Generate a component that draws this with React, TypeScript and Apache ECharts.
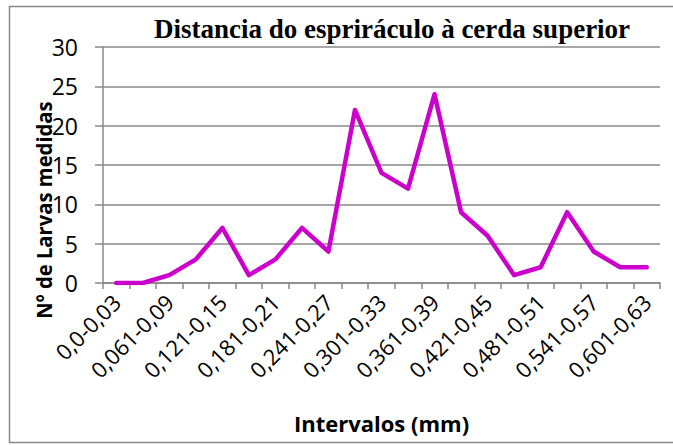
import React, { useEffect, useRef } from "react";
import * as echarts from "echarts";

const categories = [
  "0,0-0,03", "0,031-0,06", "0,061-0,09", "0,091-0,12", "0,121-0,15", "0,151-0,18",
  "0,181-0,21", "0,211-0,24", "0,241-0,27", "0,271-0,30", "0,301-0,33", "0,331-0,36",
  "0,361-0,39", "0,391-0,42", "0,421-0,45", "0,451-0,48", "0,481-0,51", "0,511-0,54",
  "0,541-0,57", "0,571-0,60", "0,601-0,63",
];
const values = [0, 0, 1, 3, 7, 1, 3, 7, 4, 22, 14, 12, 24, 9, 6, 1, 2, 9, 4, 2, 2];
const titleText = "Distancia do espriráculo à cerda superior";
const xName = "Intervalos (mm)";
const yName = "Nº de Larvas medidas";

export default function App() {
  const ref = useRef<HTMLDivElement>(null);
  useEffect(() => {
    if (!ref.current) return;
    const chart = echarts.init(ref.current, null, { renderer: "svg" });
    chart.setOption({
      animation: false,
      backgroundColor: "#fff",
      title: {
        text: titleText,
        left: 387,
        textAlign: "center",
        top: 10,
        textStyle: {
          fontFamily: "Liberation Serif",
          fontWeight: "bold",
          fontSize: 27,
          color: "#000",
        },
      },
      graphic: [
        {
          type: "rect",
          shape: { x: 9.5, y: 6.5, width: 680, height: 436 },
          style: { fill: "none", stroke: "#888", lineWidth: 1.5 },
          silent: true,
        },
        {
          type: "text",
          x: 43,
          y: 210,
          rotation: Math.PI / 2,
          scaleX: 0.92,
          style: {
            text: yName,
            fontFamily: "Open Sans",
            fontWeight: "bold",
            fontSize: 22,
            fill: "#000",
            align: "center",
            verticalAlign: "middle",
          },
          silent: true,
        },
      ],
      grid: { left: 103, right: 13, top: 47, bottom: 162, containLabel: false },
      xAxis: {
        type: "category",
        data: categories,
        boundaryGap: true,
        name: xName,
        nameLocation: "middle",
        nameGap: 129,
        nameTextStyle: {
          fontFamily: "Open Sans",
          fontWeight: "bold",
          fontSize: 22,
          color: "#000",
        },
        axisLine: { lineStyle: { color: "#888", width: 1.5 } },
        axisTick: { show: true, interval: 0, length: 6, lineStyle: { color: "#888", width: 1.5 } },
        axisLabel: {
          interval: 1,
          rotate: 45,
          fontFamily: "Open Sans",
          fontSize: 22,
          color: "#000",
          margin: 15,
        },
        splitLine: { show: false },
      },
      yAxis: {
        type: "value",
        min: 0,
        max: 30,
        interval: 5,
        axisLine: { show: true, lineStyle: { color: "#888", width: 1.5 } },
        axisTick: { show: true, length: 8, lineStyle: { color: "#888", width: 1.5 } },
        axisLabel: {
          fontFamily: "Open Sans",
          fontSize: 23,
          color: "#000",
          margin: 25,
        },
        splitLine: { show: true, lineStyle: { color: "#888", width: 1.5 } },
      },
      series: [
        {
          type: "line",
          data: values,
          symbol: "none",
          lineStyle: { color: "#CC00CC", width: 4.5, join: "round", cap: "round" },
          itemStyle: { color: "#CC00CC" },
        },
      ],
    });
    return () => chart.dispose();
  }, []);
  return (
    <div
      ref={ref}
      style={{ position: "absolute", left: 0, top: 0, width: 673, height: 445 }}
    />
  );
}
